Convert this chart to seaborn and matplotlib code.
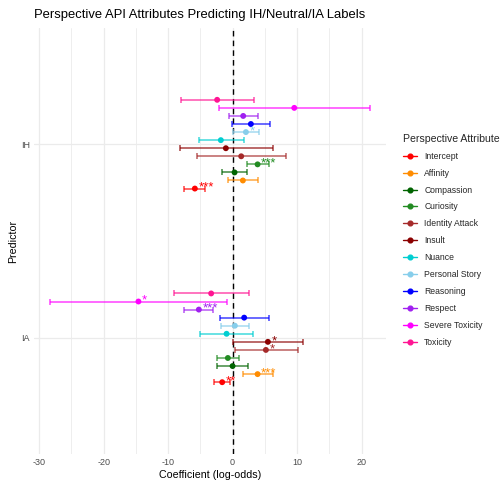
import numpy as np
import pandas as pd
import seaborn as sns
import matplotlib.pyplot as plt
from matplotlib.lines import Line2D

# Attribute order (bottom to top within each predictor group)
attributes = ["Intercept", "Affinity", "Compassion", "Curiosity", "Identity Attack", "Insult",
              "Nuance", "Personal Story", "Reasoning", "Respect", "Severe Toxicity", "Toxicity"]
colors = ["#FF0000", "#FF8C00", "#006400", "#228B22", "#A52A2A", "#8B0000",
          "#00CED1", "#87CEEB", "#0000FF", "#A020F0", "#FF00FF", "#FF1493"]

# IH coefficients with 95% CI
ih_coef = [-5.85, 1.60, 0.31, 3.88, 1.34, -1.04, -1.82, 2.07, 2.84, 1.65, 9.57, -2.39]
ih_lo = [-7.52, -0.68, -1.61, 2.27, -5.50, -8.23, -5.18, 0.10, -0.10, -0.62, -2.13, -8.03]
ih_hi = [-4.25, 3.93, 2.22, 5.59, 8.23, 6.31, 1.70, 4.13, 5.84, 3.98, 21.36, 3.36]
ih_sig = ["***", "", "", "***", "", "", "", "*", "", "", "", ""]

# IA coefficients with 95% CI
ia_coef = [-1.61, 3.88, 0.00, -0.73, 5.17, 5.48, -0.93, 0.36, 1.80, -5.23, -14.60, -3.32]
ia_lo = [-2.85, 1.60, -2.39, -2.48, 0.31, 0.00, -5.08, -1.86, -1.92, -7.52, -28.30, -9.16]
ia_hi = [-0.41, 6.26, 2.38, 1.03, 10.09, 10.96, 3.20, 2.58, 5.59, -3.01, -0.84, 2.58]
ia_sig = ["**", "***", "", "", "*", "*", "", "", "", "***", "*", ""]

predictors = ["IA", "IH"]

df = pd.concat([
    pd.DataFrame({"predictor": "IH", "attribute": attributes, "coef": ih_coef,
                  "lo": ih_lo, "hi": ih_hi, "sig": ih_sig}),
    pd.DataFrame({"predictor": "IA", "attribute": attributes, "coef": ia_coef,
                  "lo": ia_lo, "hi": ia_hi, "sig": ia_sig}),
]).reset_index(drop=True)

# dodge positions
dodge = 0.5 / len(attributes)
df["ypos"] = (df["predictor"].map({p: i + 1 for i, p in enumerate(predictors)})
              + (df["attribute"].map({a: i for i, a in enumerate(attributes)}) - 5.5) * dodge)

sns.set_theme(style="white")
plt.rcParams["font.family"] = ["Liberation Sans", "DejaVu Sans"]
plt.rcParams["axes.unicode_minus"] = False

fig = plt.figure(figsize=(5.03, 4.83), dpi=100)
ax = fig.add_axes([34 / 503, 29 / 483, 352 / 503, 426 / 483])

palette = dict(zip(attributes, colors))

# grid
for v in range(-30, 25, 5):
    ax.axvline(v, color="#EBEBEB", lw=0.9 if v % 10 == 0 else 0.6, zorder=0)
for y in [1, 2]:
    ax.axhline(y, color="#EBEBEB", lw=0.9, zorder=0)
ax.axvline(0, color="black", lw=1.0, ls=(0, (4, 3)), zorder=1)

for _, r in df.iterrows():
    ax.errorbar(r["coef"], r["ypos"], xerr=[[r["coef"] - r["lo"]], [r["hi"] - r["coef"]]],
                fmt="none", ecolor=palette[r["attribute"]], elinewidth=1.1,
                capsize=2.2, capthick=1.1, alpha=0.75, zorder=2)

sns.scatterplot(data=df, x="coef", y="ypos", hue="attribute", palette=palette,
                hue_order=attributes, s=18, edgecolor="none", legend=False, ax=ax, zorder=3)

for _, r in df.iterrows():
    if r["sig"]:
        ax.annotate(r["sig"], (r["coef"], r["ypos"]), xytext=(2.5, 0.5),
                    textcoords="offset points", ha="left", va="center",
                    fontsize=9.5, color=palette[r["attribute"]], zorder=4)

ax.set_xlim(-30.8, 23.8)
ax.set_ylim(0.4, 2.6)
ax.set_xticks([-30, -20, -10, 0, 10, 20])
ax.set_yticks([1, 2])
ax.set_yticklabels(predictors)
ax.tick_params(axis="both", length=0, labelsize=6.5, colors="#4D4D4D", pad=3)
ax.set_xlabel("Coefficient (log-odds)", fontsize=7.7, color="black", labelpad=2)
ax.set_ylabel("Predictor", fontsize=7.7, color="black", labelpad=2)
ax.set_title("Perspective API Attributes Predicting IH/Neutral/IA Labels",
             loc="left", fontsize=9.4, color="black", pad=7)
for s in ax.spines.values():
    s.set_visible(False)

handles = [Line2D([0], [0], color=c, marker="o", markersize=3.4, lw=1.0) for c in colors]
leg = fig.legend(handles, attributes, loc="upper left", bbox_to_anchor=(395 / 503, 1 - 126 / 483),
                 frameon=False, title="Perspective Attribute", fontsize=6.2,
                 title_fontsize=7.6, handlelength=1.7, handletextpad=0.8,
                 labelspacing=0.92, alignment="left")

fig.savefig("out.png", dpi=100)
